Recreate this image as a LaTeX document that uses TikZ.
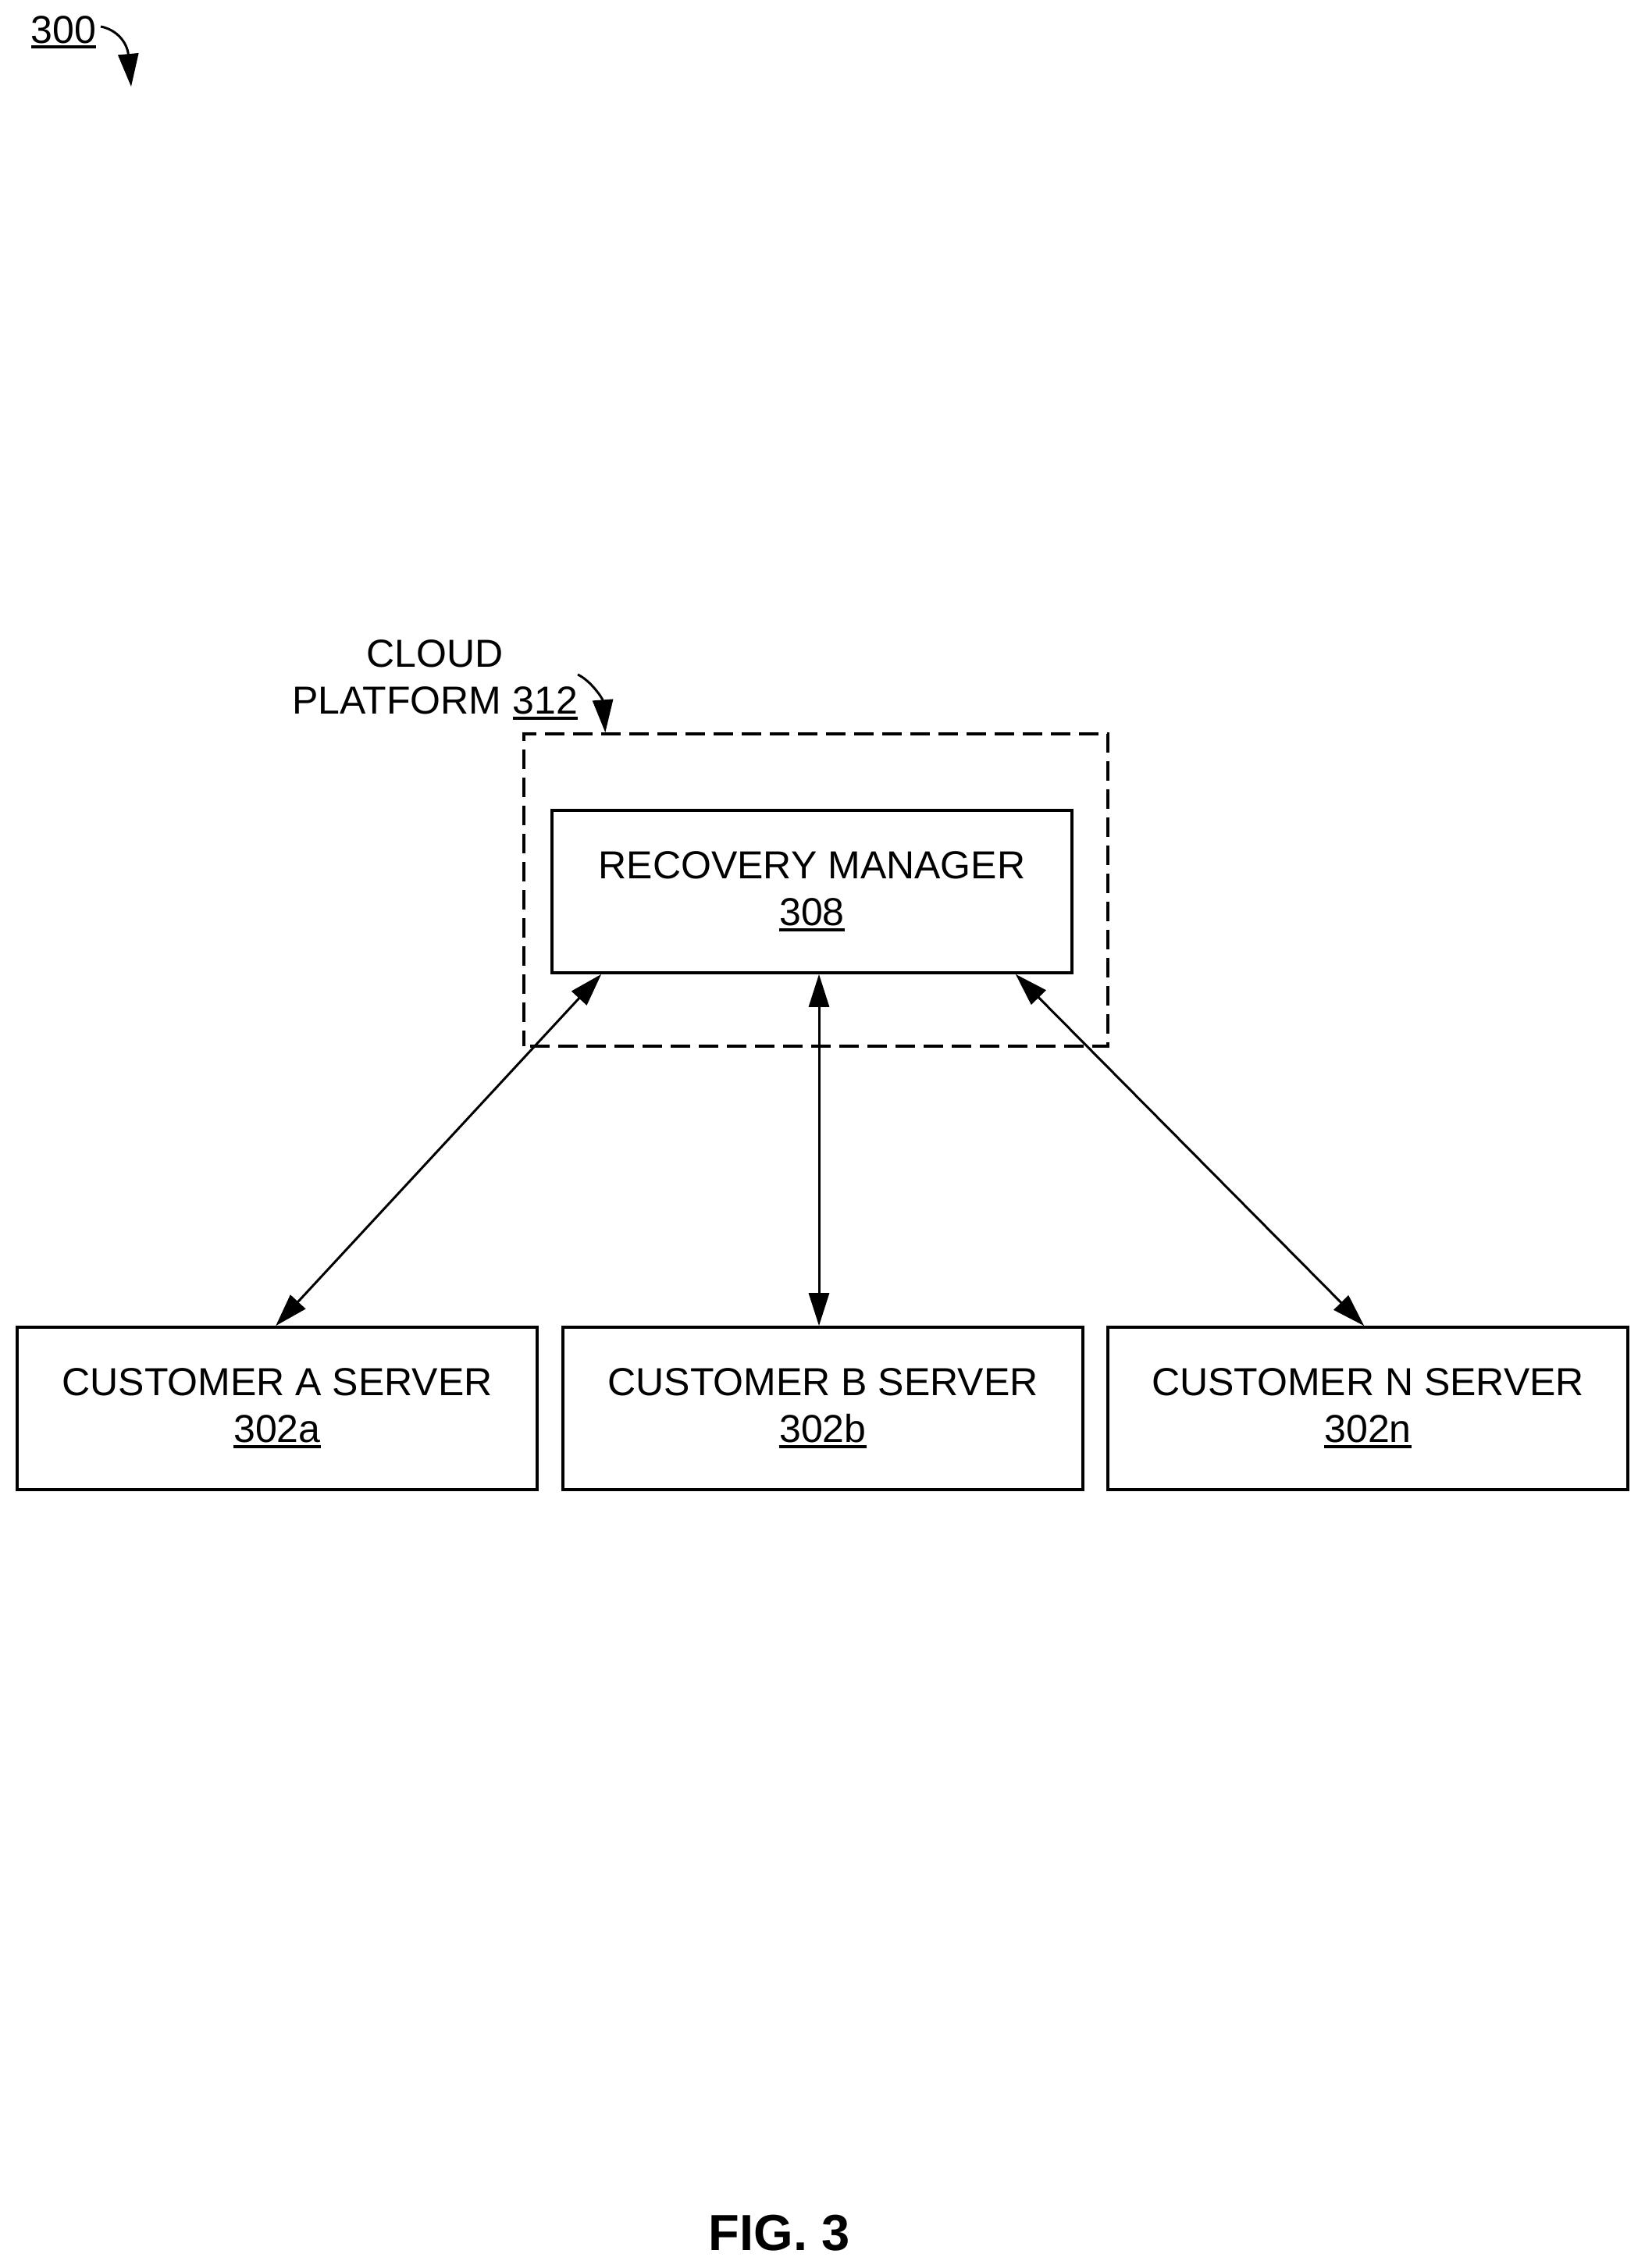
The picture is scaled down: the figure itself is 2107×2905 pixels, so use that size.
\documentclass[tikz,border=0pt]{standalone}
\usepackage{fontspec}
\setmainfont{Liberation Sans}
\usetikzlibrary{arrows.meta}
\newcommand{\refnum}[1]{\setbox0\hbox{#1}\rlap{\rule[-7pt]{\wd0}{3.8pt}}\box0}
\tikzset{
  lbl/.style={inner sep=0pt,align=center,font=\fontsize{50}{60}\selectfont},
  srv/.style={draw,line width=3.6pt,inner sep=0pt,minimum width=666pt,minimum height=208pt,align=center,font=\fontsize{50}{60}\selectfont},
  cloudbox/.style={draw,line width=3.4pt,dash pattern=on 25pt off 11pt,dash phase=28pt,inner sep=0pt,minimum width=748pt,minimum height=400pt},
  biarrow/.style={line width=3pt,{Triangle[length=42pt,width=26pt]}-{Triangle[length=42pt,width=26pt]}},
  curved/.style={line width=3pt,-{Triangle[length=42pt,width=26pt]}}
}
\begin{document}
\begin{tikzpicture}[x=1pt,y=-1pt]
\useasboundingbox (0,0) rectangle (2107,2905);
\node[lbl,anchor=base west] (n300) at (39.5,55) {\refnum{300}};
\coordinate (s300) at (129,34);
\coordinate (t300) at (168,111);
\draw[curved] (s300) .. controls (150,38) and (163,55) .. (t300);
\node[lbl] (cloudlbl) at (557,871) {CLOUD\\PLATFORM \refnum{312}};
\node[cloudbox] (cloud) at (1045,1140) {};
\coordinate (s312) at (740,864);
\draw[curved] (s312) .. controls (757,872) and (772,895) .. ([xshift=106pt]cloud.north west);
\node[srv] (rm) at (1040,1142) {RECOVERY MANAGER\\\refnum{308}};
\node[srv] (custa) at (355,1804) {CUSTOMER A SERVER\\\refnum{302a}};
\node[srv] (custb) at (1054,1804) {CUSTOMER B SERVER\\\refnum{302b}};
\node[srv] (custn) at (1752,1804) {CUSTOMER N SERVER\\\refnum{302n}};
\draw[biarrow] ([xshift=65pt]rm.south west) -- ([xshift=333pt]custa.north west);
\draw[biarrow] ([xshift=9pt]rm.south) -- ([xshift=-5pt]custb.north);
\draw[biarrow] ([xshift=-74pt]rm.south east) -- ([xshift=330pt]custn.north west);
\node[inner sep=0pt,font=\bfseries\fontsize{65}{78}\selectfont] (fig) at (998,2860) {FIG. 3};
\end{tikzpicture}
\end{document}
